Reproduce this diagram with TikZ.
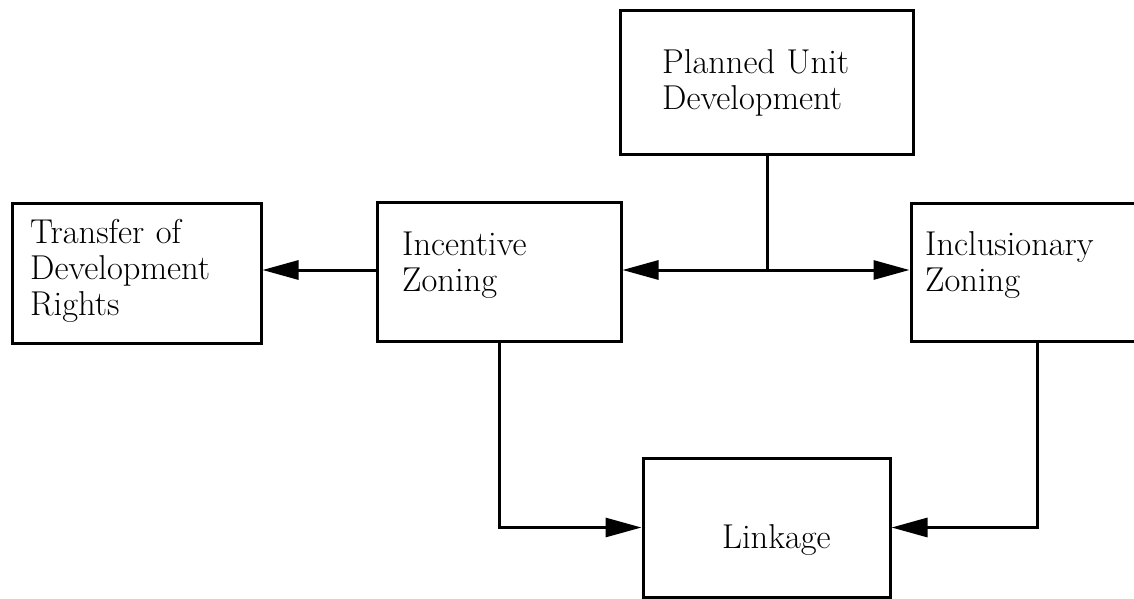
\documentclass[tikz,border=0pt]{standalone}
\usepackage{fontspec}
\setmainfont{Latin Modern Roman}
\usetikzlibrary{arrows.meta}

\tikzset{
  box/.style={draw, rectangle, line width=3pt, inner sep=0pt},
  label text/.style={anchor=base west, inner sep=0pt, text width=300pt, align=left,
    font=\fontsize{34.5}{36}\selectfont},
  link/.style={line width=3pt, -{Triangle[length=36pt,width=19pt]}},
  plain link/.style={line width=3pt}
}

\begin{document}
\begin{tikzpicture}[x=1pt,y=-1pt]
  \useasboundingbox (0,0) rectangle (1134,599);
  \clip (0,0) rectangle (1134,599);

  % boxes
  \node[box, minimum width=249pt, minimum height=140pt] (tdr)  at (136.5,273) {};
  \node[box, minimum width=244pt, minimum height=139pt] (inc)  at (499,271.5) {};
  \node[box, minimum width=293pt, minimum height=143pt] (pud)  at (766.5,82.5) {};
  \node[box, minimum width=252pt, minimum height=138pt] (incl) at (1037,272) {};
  \node[box, minimum width=247pt, minimum height=139pt] (link) at (766.5,527.5) {};

  % box texts
  \node[label text] (tdr-t)  at (30,243)  {Transfer of\\Development\\Rights};
  \node[label text] (inc-t)  at (402,255) {Incentive\\Zoning};
  \node[label text] (pud-t)  at (662,74)  {Planned Unit\\Development};
  \node[label text] (incl-t) at (925,255) {Inclusionary\\Zoning};
  \node[label text] (link-t) at (722,548) {Linkage};

  % connectors
  \coordinate (j) at (767,270);
  \draw[plain link] (pud.south -| j) -- (j);
  \draw[link] (j) -- (j -| inc.east);
  \draw[link] (j) -- (j -| incl.west);
  \draw[link] (inc.west |- j) -- (tdr.east |- j);
  \draw[link] (inc.south) |- (link.west);
  \draw[link] (incl.south) |- (link.east);
\end{tikzpicture}
\end{document}
